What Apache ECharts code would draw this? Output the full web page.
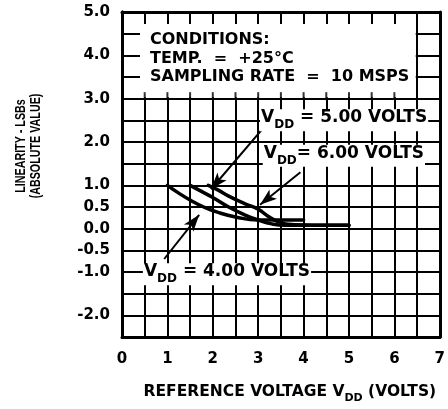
<!DOCTYPE html>
<html>
<head>
<meta charset="utf-8">
<script src="https://cdn.jsdelivr.net/npm/echarts@6/dist/echarts.min.js"></script>
<style>
html, body { margin: 0; padding: 0; background: #fff; }
#chart { width: 448px; height: 409px; }
</style>
</head>
<body>
<div id="chart"></div>
<script>
// tick labels
var xLabels = [0, 1, 2, 3, 4, 5, 6, 7];
var yLabels = [5.0, 4.0, 3.0, 2.0, 1.0, 0.5, 0.0, -0.5, -1.0, -2.0];
// grid steps inside the conditions box (short ticks on its lower edge)
var boxTickX = [0.5, 1, 1.5, 2, 2.5, 3, 3.5, 4, 4.5, 5, 5.5, 6];

// curves: [reference voltage, linearity]
var vdd4 = [[1.0, 1.0], [1.25, 0.82], [1.5, 0.66], [1.8, 0.5], [2.1, 0.38], [2.5, 0.27], [3.0, 0.2], [3.5, 0.2], [4.0, 0.2]];
var vdd5 = [[1.5, 1.0], [1.75, 0.86], [2.0, 0.72], [2.35, 0.5], [2.7, 0.32], [3.0, 0.2], [3.3, 0.11], [3.6, 0.08], [4.0, 0.08], [5.0, 0.08]];
var vdd6 = [[1.9, 1.0], [2.1, 0.9], [2.35, 0.75], [2.7, 0.58], [3.0, 0.45], [3.2, 0.3], [3.45, 0.16], [3.8, 0.09], [4.2, 0.08], [5.0, 0.08]];

// annotation arrows: [tail, head]
var arrow5 = [[3.11, 2.32], [1.96, 0.91]];
var arrow6 = [[3.93, 1.30], [3.04, 0.55]];
var arrow4 = [[0.93, -0.70], [1.70, 0.32]];

var FONT = '"DejaVu Sans", "Liberation Sans", Arial, sans-serif';
var FONT2 = '"Liberation Sans", Arial, Helvetica, sans-serif';

function vddRich(txt) {
    return '{v|V}{s|DD}{v|' + txt + '}';
}
var richStyle = {
    v: { fontFamily: FONT, fontSize: 17, fontWeight: 'bold', color: '#000', padding: [0, 0, 5, 0], verticalAlign: 'bottom' },
    s: { fontFamily: FONT, fontSize: 12, fontWeight: 'bold', color: '#000', verticalAlign: 'bottom' }
};

function arrowLine(a) {
    return [{ coord: a[0] }, { coord: a[1] }];
}

function curveSeries(name, data, arrow, labelText, labelAt) {
    return {
        name: name, type: 'line', data: data, z: 5,
        smooth: 0.5, showSymbol: false, symbol: 'none',
        lineStyle: { color: '#000', width: 3.5, cap: 'round', join: 'round' },
        markLine: {
            silent: true, symbol: ['none', 'arrow'], symbolSize: [9, 17],
            lineStyle: { color: '#000', width: 2, type: 'solid' }, label: { show: false },
            data: [arrowLine(arrow)]
        },
        markPoint: {
            silent: true, symbol: 'circle', symbolSize: 0,
            label: {
                show: true, position: 'right', distance: 0, formatter: vddRich(labelText),
                backgroundColor: '#fff', padding: [0, 1, 0, 1], rich: richStyle
            },
            data: [{ coord: labelAt }]
        }
    };
}

var chart = echarts.init(document.getElementById('chart'));

var option = {
    animation: false,
    backgroundColor: '#fff',
    grid: { left: 122, top: 12, right: 4, bottom: 66 },
    xAxis: [{
        type: 'value', min: 0, max: 7, interval: 0.5, z: 0,
        axisLine: { show: true, onZero: false, lineStyle: { color: '#000', width: 3 } },
        axisTick: { show: false },
        splitLine: { show: true, lineStyle: { color: '#000', width: 2 } },
        axisLabel: {
            margin: 15, color: '#000', fontFamily: FONT, fontSize: 15, fontWeight: 'bold',
            formatter: function (v) { return xLabels.indexOf(v) >= 0 ? String(v) : ''; }
        },
        name: '{t|REFERENCE VOLTAGE V}{s|DD}{t| (VOLTS)}',
        nameLocation: 'middle', nameGap: 47,
        nameTextStyle: {
            padding: [0, 0, 0, 18],
            rich: {
                t: { fontFamily: FONT, fontSize: 15.5, fontWeight: 'bold', color: '#000', padding: [0, 0, 4, 0], verticalAlign: 'bottom' },
                s: { fontFamily: FONT, fontSize: 11, fontWeight: 'bold', color: '#000', verticalAlign: 'bottom' }
            }
        }
    }, {
        type: 'value', min: 0, max: 7, interval: 0.5, position: 'top', z: 3,
        axisLine: { show: true, onZero: false, lineStyle: { color: '#000', width: 3 } },
        axisTick: { show: true, inside: true, length: 12, lineStyle: { color: '#000', width: 2 } },
        splitLine: { show: false },
        axisLabel: { show: false }
    }],
    yAxis: [{
        type: 'value', min: -2.5, max: 5, interval: 0.5, z: 0,
        axisLine: { show: true, onZero: false, lineStyle: { color: '#000', width: 3 } },
        axisTick: { show: false },
        splitLine: { show: true, lineStyle: { color: '#000', width: 2 } },
        axisLabel: {
            margin: 12, color: '#000', fontFamily: FONT, fontSize: 15, fontWeight: 'bold',
            formatter: function (v) {
                for (var i = 0; i < yLabels.length; i++) {
                    if (Math.abs(yLabels[i] - v) < 1e-6) return v.toFixed(1);
                }
                return '';
            }
        }
    }, {
        type: 'value', min: -2.5, max: 5, interval: 0.5, position: 'left', z: 3,
        axisLine: { show: true, onZero: false, lineStyle: { color: '#000', width: 3 } },
        axisTick: { show: true, inside: true, length: 18, lineStyle: { color: '#000', width: 2 } },
        splitLine: { show: false },
        axisLabel: { show: false }
    }, {
        type: 'value', min: -2.5, max: 5, interval: 0.5, position: 'right', z: 3,
        axisLine: { show: true, onZero: false, lineStyle: { color: '#000', width: 3 } },
        axisTick: { show: false },
        splitLine: { show: false },
        axisLabel: { show: false }
    }],
    graphic: [{
        type: 'text', x: 28, y: 146, rotation: Math.PI / 2, scaleX: 0.74,
        style: {
            text: 'LINEARITY - LSBs\n(ABSOLUTE VALUE)',
            fontFamily: FONT2, fontSize: 14.5, fontWeight: 'bold', lineHeight: 15,
            fill: '#000', align: 'center', verticalAlign: 'middle'
        },
        z: 10
    }, {
        type: 'text', left: 150, top: 31,
        style: {
            text: 'CONDITIONS:\nTEMP.  =  +25°C\nSAMPLING RATE  =  10 MSPS',
            fontFamily: FONT, fontSize: 16, fontWeight: 'bold', lineHeight: 18.5, fill: '#000'
        },
        z: 10
    }],
    series: [{
        // white conditions box
        type: 'line', data: [], z: 1, silent: true,
        markArea: {
            silent: true,
            itemStyle: { color: '#fff', opacity: 1 },
            data: [[{ coord: [0, 3.03] }, { coord: [6.47, 5] }]]
        }
    }, {
        type: 'scatter', z: 2, silent: true,
        data: boxTickX.map(function (x) { return [x, 3.0]; }),
        symbol: 'rect', symbolSize: [2, 7], symbolOffset: [0, -3],
        itemStyle: { color: '#000' }
    },
        curveSeries('VDD = 4.00 VOLTS', vdd4, arrow4, ' = 4.00 VOLTS', [0.46, -1.05]),
        curveSeries('VDD = 5.00 VOLTS', vdd5, arrow5, ' = 5.00 VOLTS', [3.04, 2.5]),
        curveSeries('VDD = 6.00 VOLTS', vdd6, arrow6, '= 6.00 VOLTS', [3.1, 1.68])
    ]
};

chart.setOption(option);
</script>
</body>
</html>
